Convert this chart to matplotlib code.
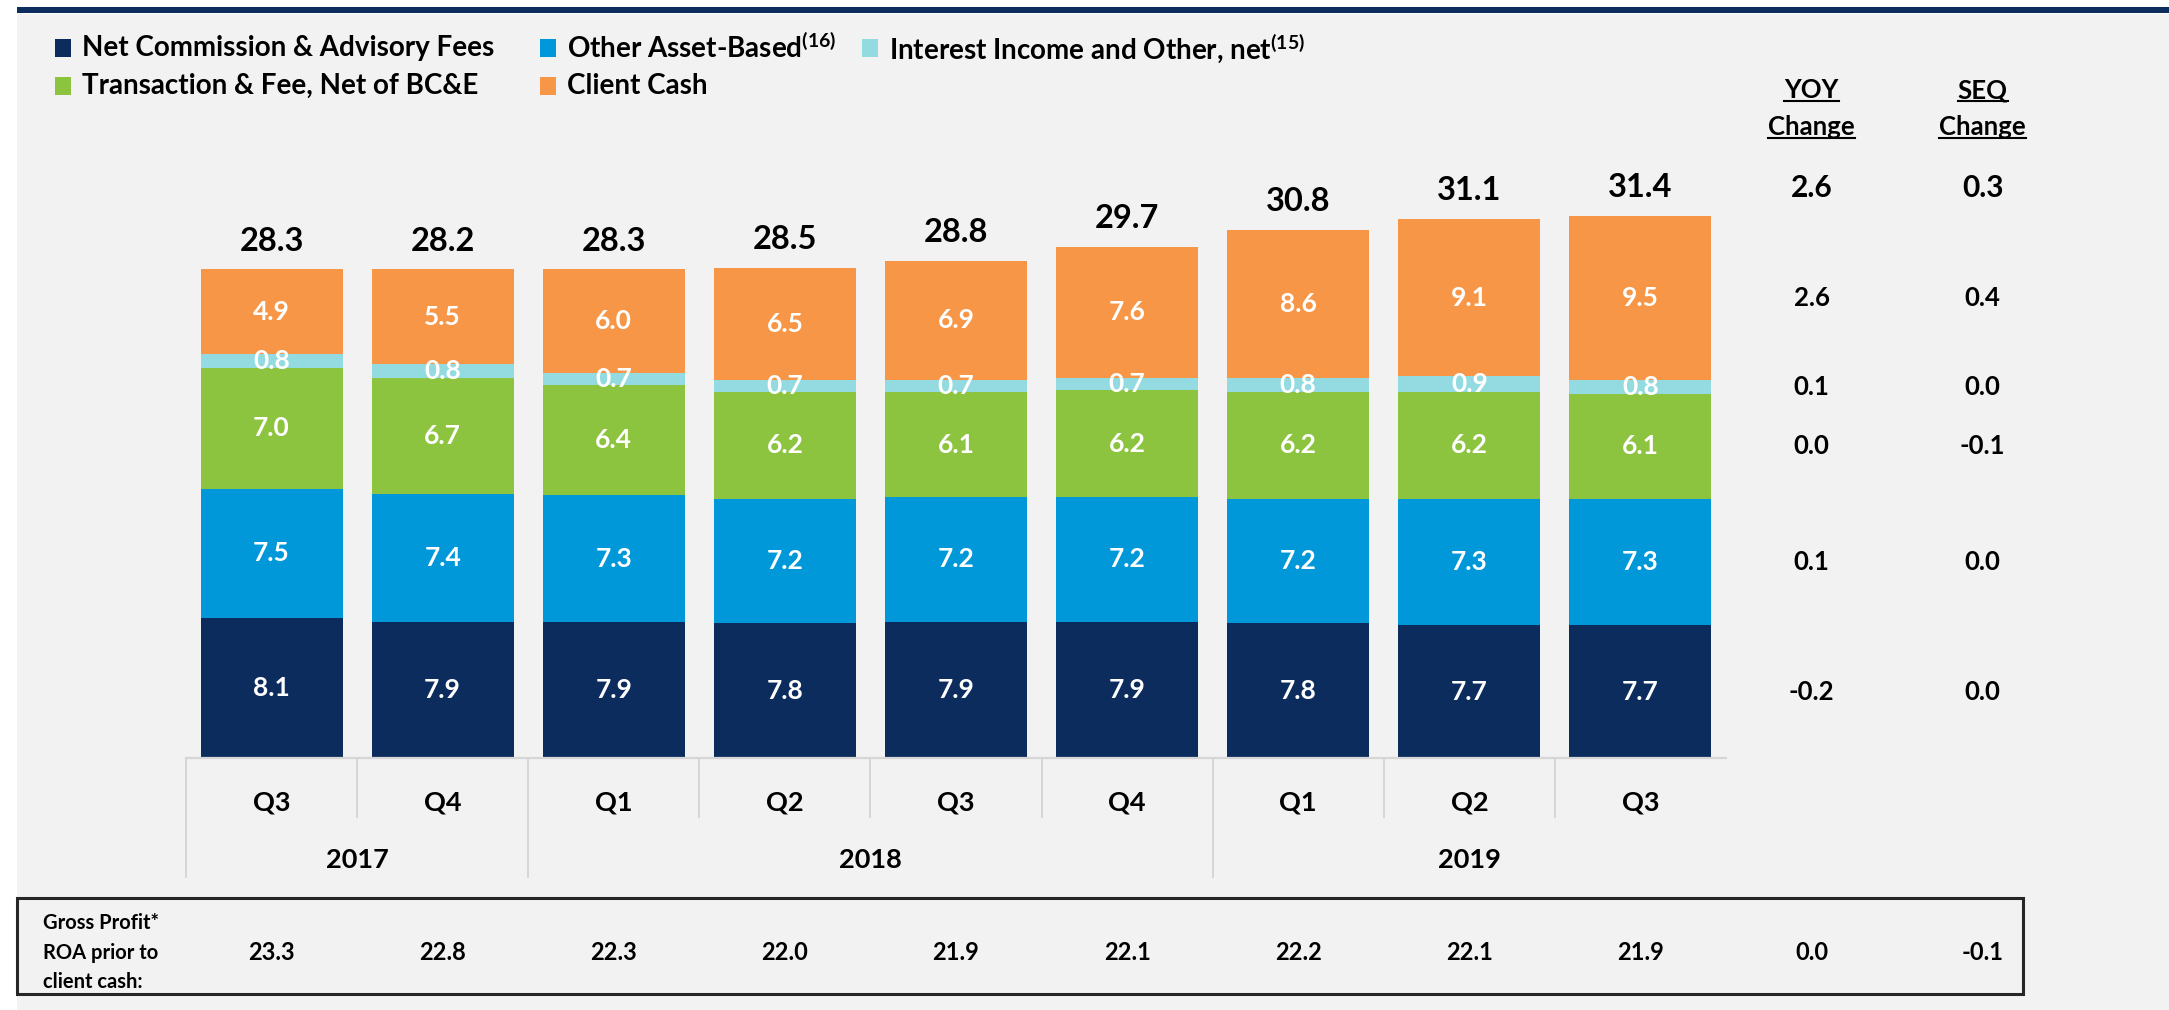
import matplotlib
matplotlib.use("Agg")
import matplotlib.pyplot as plt
import matplotlib.transforms as mtransforms
from matplotlib.patches import Rectangle
from matplotlib.lines import Line2D
import numpy as np

# ---- data (bps) ----
quarters = ["Q3", "Q4", "Q1", "Q2", "Q3", "Q4", "Q1", "Q2", "Q3"]
years = ["2017", "2018", "2019"]
year_first_idx = [0, 2, 6]
year_last_idx = [1, 5, 8]

series_names = [
    "Net Commission & Advisory Fees",
    "Other Asset-Based$^{(16)}$",
    "Transaction & Fee, Net of BC&E",
    "Interest Income and Other, net$^{(15)}$",
    "Client Cash",
]
net_commission = [8.1, 7.9, 7.9, 7.8, 7.9, 7.9, 7.8, 7.7, 7.7]
other_asset_based = [7.5, 7.4, 7.3, 7.2, 7.2, 7.2, 7.2, 7.3, 7.3]
transaction_fee = [7.0, 6.7, 6.4, 6.2, 6.1, 6.2, 6.2, 6.2, 6.1]
interest_other = [0.8, 0.8, 0.7, 0.7, 0.7, 0.7, 0.8, 0.9, 0.8]
client_cash = [4.9, 5.5, 6.0, 6.5, 6.9, 7.6, 8.6, 9.1, 9.5]
totals = [28.3, 28.2, 28.3, 28.5, 28.8, 29.7, 30.8, 31.1, 31.4]

# changes listed in stacking order (bottom to top), plus the totals
yoy_change = [-0.2, 0.1, 0.0, 0.1, 2.6]
seq_change = [0.0, 0.0, -0.1, 0.0, 0.4]
yoy_total = 2.6
seq_total = 0.3

gross_profit_roa = [23.3, 22.8, 22.3, 22.0, 21.9, 22.1, 22.2, 22.1, 21.9]
roa_yoy = 0.0
roa_seq = -0.1

colors = ["#0d2c5e", "#0098d8", "#8cc43f", "#93dbe0", "#f79646"]
NAVY = "#0e2d5f"
BG = "#f2f2f2"
GRID = "#d6d6d6"

# ---- style ----
plt.rcParams["font.family"] = ["Lato", "DejaVu Sans"]
plt.rcParams["font.weight"] = "bold"
plt.rcParams["mathtext.fontset"] = "custom"
plt.rcParams["mathtext.rm"] = "Lato:bold"
plt.rcParams["mathtext.it"] = "Lato:bold"
plt.rcParams["mathtext.bf"] = "Lato:bold"

W, H = 2169, 1010
fig = plt.figure(figsize=(W / 100, H / 100), dpi=100, facecolor="white")


def fx(px):
    return px / W


def fy(py):
    return 1 - py / H


# page background and header rule
fig.add_artist(Rectangle((fx(17), 0), 1 - fx(17), fy(14), transform=fig.transFigure,
                         facecolor=BG, edgecolor="none", zorder=0))
fig.add_artist(Rectangle((fx(17), fy(13)), 1 - fx(17), 6 / H, transform=fig.transFigure,
                         facecolor=NAVY, edgecolor="none", zorder=1))

# ---- main stacked bars ----
PX_PER_UNIT = 17.27
YMAX = 34
ax = fig.add_axes([fx(186), fy(758), 1540 / W, YMAX * PX_PER_UNIT / H])
ax.set_xlim(-0.5, 8.5)
ax.set_ylim(0, YMAX)
ax.axis("off")
ax.patch.set_alpha(0)

x = np.arange(len(quarters))
stack = [net_commission, other_asset_based, transaction_fee, interest_other, client_cash]
bottom = np.zeros(len(x))
seg_centers_last = []
for vals, col in zip(stack, colors):
    vals = np.array(vals)
    bc = ax.bar(x, vals, width=0.83, bottom=bottom, color=col, edgecolor="none", zorder=2)
    ax.bar_label(bc, labels=[f"{v:.1f}" for v in vals], label_type="center",
                 color="white", fontsize=19, fontweight="bold", zorder=4)
    seg_centers_last.append(bottom[-1] + vals[-1] / 2)
    bottom = bottom + vals
stack_top = bottom

for i, t in enumerate(totals):
    ax.annotate(f"{t:.1f}", (x[i], stack_top[i]), xytext=(0, 13.5), textcoords="offset points",
                ha="center", va="baseline", fontsize=23.5, fontweight="bold", color="black")

# YOY / SEQ columns at positions 9 and 10 on the same scale
yoy_x, seq_x = 9, 10
ax.annotate(f"{yoy_total:.1f}", (yoy_x, stack_top[-1]), xytext=(0, 13.5), textcoords="offset points",
            ha="center", va="baseline", fontsize=21.5, fontweight="bold", annotation_clip=False)
ax.annotate(f"{seq_total:.1f}", (seq_x, stack_top[-1]), xytext=(0, 13.5), textcoords="offset points",
            ha="center", va="baseline", fontsize=21.5, fontweight="bold", annotation_clip=False)
for yc, yv, sv in zip(seg_centers_last, yoy_change, seq_change):
    ax.text(yoy_x, yc, f"{yv:.1f}", ha="center", va="center", fontsize=18.5,
            fontweight="bold", clip_on=False)
    ax.text(seq_x, yc, f"{sv:.1f}", ha="center", va="center", fontsize=18.5,
            fontweight="bold", clip_on=False)

# ---- category axis (quarters / years) ----
trans = mtransforms.blended_transform_factory(ax.transData, fig.transFigure)
fig.add_artist(Line2D([-0.5, 8.5], [fy(758), fy(758)], transform=trans, color=GRID, lw=1.6, zorder=3))
for k in range(len(quarters)):
    xb = k - 0.5
    y_end = 877 if k in year_first_idx else 817
    fig.add_artist(Line2D([xb, xb], [fy(758), fy(y_end)], transform=trans, color=GRID, lw=1.4))
for i, q in enumerate(quarters):
    fig.text(i, fy(802), q, transform=trans, ha="center", va="center", fontsize=19.5, fontweight="bold")
for yr, a, b in zip(years, year_first_idx, year_last_idx):
    fig.text((a + b) / 2, fy(860), yr, transform=trans, ha="center", va="center",
             fontsize=19.5, fontweight="bold")

# column headers
hdrs = []
for xc, word in [(yoy_x, "YOY"), (seq_x, "SEQ")]:
    hdrs.append(fig.text(xc, fy(90), word, transform=trans, ha="center", va="center",
                         fontsize=18.5, fontweight="bold"))
    hdrs.append(fig.text(xc, fy(127), "Change", transform=trans, ha="center", va="center",
                         fontsize=18.5, fontweight="bold"))

# ---- legend ----
legend_layout = [
    (0, 55, 48), (1, 540, 48), (3, 862, 48),
    (2, 55, 86), (4, 540, 86),
]
for si, lx, ly in legend_layout:
    fig.add_artist(Rectangle((fx(lx), fy(ly + 9)), 16 / W, 18 / H, transform=fig.transFigure,
                             facecolor=colors[si], edgecolor="none"))
    fig.text(fx(lx + 27), fy(ly), series_names[si], ha="left", va="center",
             fontsize=20, fontweight="bold")

# ---- gross profit ROA box ----
fig.add_artist(Rectangle((fx(17), fy(994)), (2023 - 17) / W, (994 - 898) / H,
                         transform=fig.transFigure, facecolor="none", edgecolor="#262626", lw=2.2))
for txt, py in [("Gross Profit*", 923), ("ROA prior to", 953), ("client cash:", 982)]:
    fig.text(fx(43), fy(py), txt, ha="left", va="center", fontsize=14.5, fontweight="bold")
for i, v in enumerate(gross_profit_roa):
    fig.text(i, fy(953), f"{v:.1f}", transform=trans, ha="center", va="center",
             fontsize=17, fontweight="bold")
fig.text(yoy_x, fy(953), f"{roa_yoy:.1f}", transform=trans, ha="center", va="center",
         fontsize=17, fontweight="bold")
fig.text(seq_x, fy(953), f"{roa_seq:.1f}", transform=trans, ha="center", va="center",
         fontsize=17, fontweight="bold")

# underline the column headers
fig.canvas.draw()
renderer = fig.canvas.get_renderer()
inv = fig.transFigure.inverted()
for t in hdrs:
    bb = t.get_window_extent(renderer)
    (x0, y0), (x1, _) = inv.transform([(bb.x0, bb.y0), (bb.x1, bb.y1)])
    fig.add_artist(Line2D([x0, x1], [y0 + 1.5 / H, y0 + 1.5 / H], transform=fig.transFigure,
                          color="black", lw=1.5))

fig.savefig("out.png", dpi=100, facecolor="white")
